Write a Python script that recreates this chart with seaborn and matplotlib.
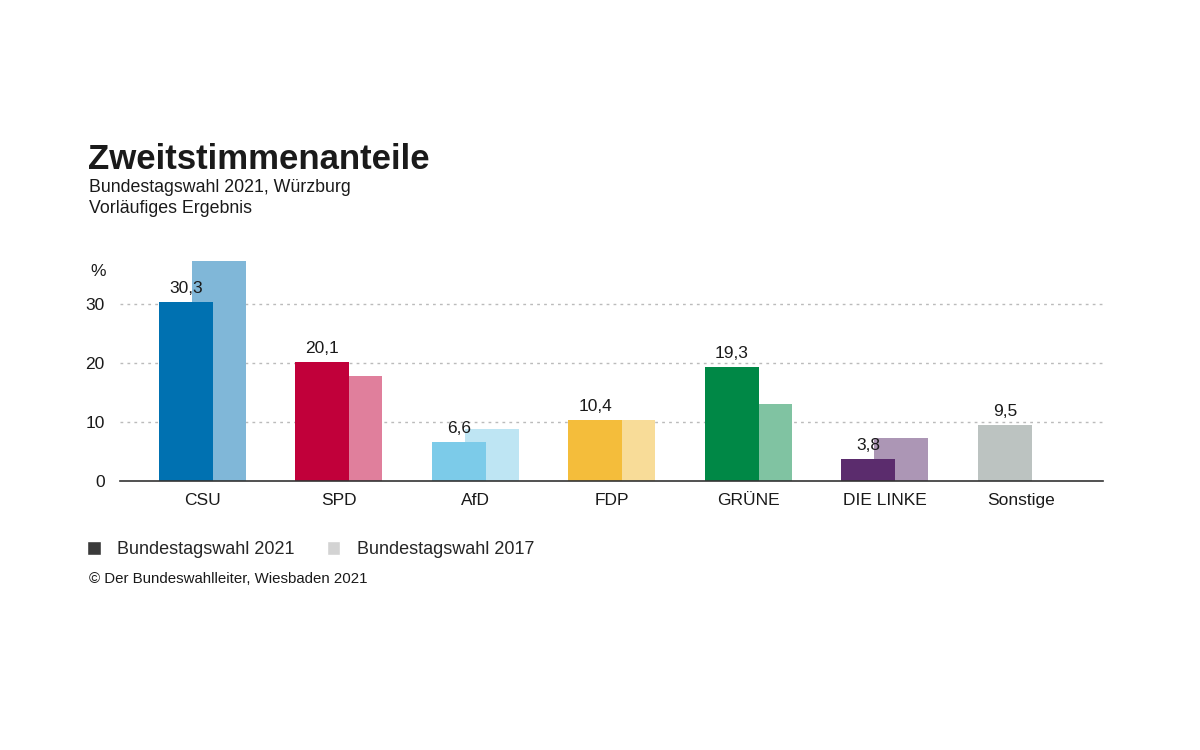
import numpy as np
import pandas as pd
import seaborn as sns
from matplotlib import pyplot as plt
from matplotlib.patches import Patch

sns.set_style("white")
plt.rcParams['font.family'] = ['Liberation Sans', 'DejaVu Sans']

# ---------------- data
parties = ["CSU", "SPD", "AfD", "FDP", "GRÜNE", "DIE LINKE", "Sonstige"]
votes_2021 = [30.3, 20.1, 6.6, 10.4, 19.3, 3.8, 9.5]
votes_2017 = [37.3, 17.8, 8.8, 10.3, 13.0, 7.2, np.nan]
labels_2021 = ["30,3", "20,1", "6,6", "10,4", "19,3", "3,8", "9,5"]
yticks = [0, 10, 20, 30]

col_2021 = ["#0071b1", "#c1003a", "#7ccbe9", "#f4bd3b", "#008846", "#5b2c6d", "#bcc3c1"]
col_2017 = ["#80b7d8", "#e07f9c", "#bee5f3", "#f8dc98", "#80c3a2", "#ac96b5", "#dddddd"]

shift = 0.121
bw = 0.396
idx = np.arange(len(parties))
df21 = pd.DataFrame({"pos": idx - shift, "val": votes_2021, "party": parties})
df17 = pd.DataFrame({"pos": idx + shift, "val": votes_2017, "party": parties})

# ---------------- figure
fh = plt.figure(figsize=(12, 7.5), dpi=100)
ah = fh.add_axes([0.1, 0.3587, 0.819, 0.299])

# 2017 behind, 2021 in front (overlapping bars)
sns.barplot(data=df17, x="pos", y="val", hue="party", palette=dict(zip(parties, col_2017)),
            native_scale=True, dodge=False, width=bw, legend=False, ax=ah, saturation=1, linewidth=0)
sns.barplot(data=df21, x="pos", y="val", hue="party", palette=dict(zip(parties, col_2021)),
            native_scale=True, dodge=False, width=bw, legend=False, ax=ah, saturation=1, linewidth=0)

for p, v, lab in zip(df21["pos"], df21["val"], labels_2021):
    ah.text(p, v + 1.0, lab, ha="center", va="bottom", fontsize=12.5, color="#1a1a1a", zorder=5)

ah.set_xlim(-0.604, 6.596)
ah.set_ylim(0, 38)
ah.set_xticks(idx)
ah.set_xticklabels(parties, fontsize=12.5, color="#1a1a1a")
ah.set_yticks(yticks)
ah.set_yticklabels([str(t) for t in yticks], fontsize=12.5, color="#1a1a1a")
ah.tick_params(axis="both", length=0)
ah.tick_params(axis="x", pad=9)
ah.tick_params(axis="y", pad=11)
ah.set_xlabel("")
ah.set_ylabel("")
for s in ["left", "right", "top"]:
    ah.spines[s].set_visible(False)
ah.spines["bottom"].set_color("#333333")
ah.spines["bottom"].set_linewidth(1.2)
for t in yticks[1:]:
    ah.axhline(t, color="#bbbbbb", lw=1, ls=(0, (2, 3)), zorder=0)
ah.set_axisbelow(True)

fh.text(0.075, 0.638, "%", fontsize=12.5, color="#1a1a1a", va="center")

# ---------------- titles
fh.text(0.0735, 0.787, "Zweitstimmenanteile", fontsize=25, fontweight="bold", color="#1a1a1a", va="center")
fh.text(0.074, 0.750, "Bundestagswahl 2021, Würzburg", fontsize=12.8, color="#1a1a1a", va="center")
fh.text(0.074, 0.722, "Vorläufiges Ergebnis", fontsize=12.8, color="#1a1a1a", va="center")

# ---------------- legend + source
handles = [Patch(facecolor="#3a3a3a", label="Bundestagswahl 2021"),
           Patch(facecolor="#d3d3d3", label="Bundestagswahl 2017")]
fh.legend(handles=handles, loc="center left", bbox_to_anchor=(0.059, 0.267), ncol=2, frameon=False,
          fontsize=13, handlelength=0.75, handleheight=0.75, handletextpad=0.9, columnspacing=1.8)
fh.text(0.074, 0.228, "© Der Bundeswahlleiter, Wiesbaden 2021", fontsize=10.8, color="#1a1a1a", va="center")

fh.savefig("out.png", dpi=100)
